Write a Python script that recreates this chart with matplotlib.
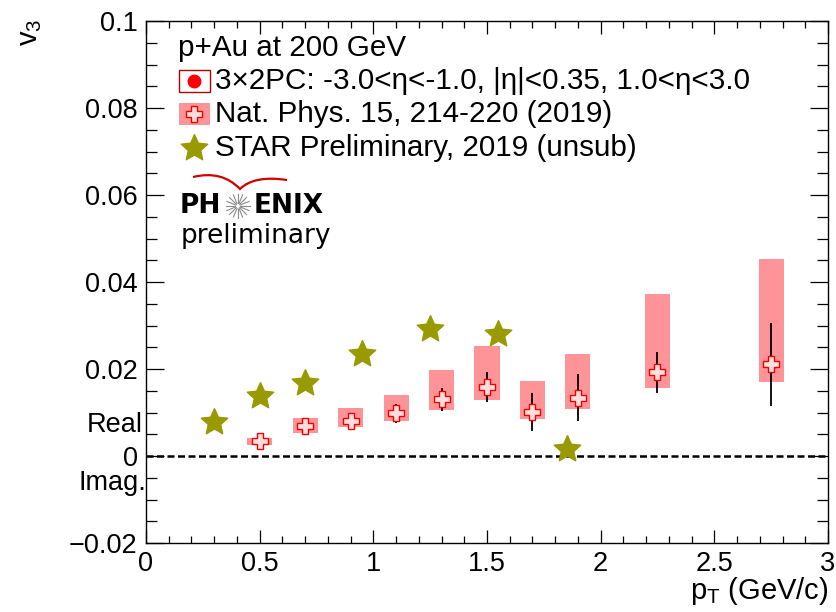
import numpy as np
import matplotlib
matplotlib.use("Agg")
import matplotlib.pyplot as plt
from matplotlib.lines import Line2D
from matplotlib.patches import Rectangle, PathPatch
from matplotlib.path import Path
from matplotlib.ticker import MultipleLocator, FixedLocator, FixedFormatter

plt.rcParams['font.family'] = ['Liberation Sans', 'DejaVu Sans']
plt.rcParams['mathtext.default'] = 'regular'

# PHENIX p+Au v3 (3x2PC)
phx_pt = [0.5, 0.7, 0.9, 1.1, 1.3, 1.5, 1.7, 1.9, 2.25, 2.75]
phx_v3 = [0.0034, 0.0069, 0.0081, 0.0098, 0.0130, 0.0158, 0.0101, 0.0134, 0.0192, 0.0211]
phx_stat = [0.0008, 0.0009, 0.0011, 0.0022, 0.0027, 0.0034, 0.0043, 0.0054, 0.0047, 0.0095]
phx_sys_lo = [0.0025, 0.0054, 0.0067, 0.0080, 0.0106, 0.0129, 0.0085, 0.0107, 0.0156, 0.0171]
phx_sys_hi = [0.0041, 0.0087, 0.0110, 0.0140, 0.0197, 0.0254, 0.0172, 0.0235, 0.0373, 0.0453]

# STAR preliminary (unsubtracted)
star_pt = [0.3, 0.5, 0.7, 0.95, 1.25, 1.55, 1.85]
star_v3 = [0.0079, 0.0139, 0.0168, 0.0234, 0.0291, 0.0280, 0.0015]

xticks = [0, 0.5, 1, 1.5, 2, 2.5, 3]
xticklabels = ["0", "0.5", "1", "1.5", "2", "2.5", "3"]
yticks = [-0.02, 0, 0.02, 0.04, 0.06, 0.08, 0.1]
yticklabels = ["\u22120.02", "0", "0.02", "0.04", "0.06", "0.08", "0.1"]

W, H = 837, 612
PINK = '#ff9498'
OLIVE = '#999900'
RED = '#ee0000'
FS_TICK = 19.5
FS_TITLE = 21
FS_LEG = 21.3

fig = plt.figure(figsize=(W / 100, H / 100), dpi=100)
ax = fig.add_axes([146 / W, 1 - 543 / H, (828 - 146) / W, (543 - 21) / H])
ax.set_xlim(0, 3)
ax.set_ylim(-0.02, 0.1)


def fx(x):
    return x / W


def fy(y):
    return 1 - y / H


# star marker with fatter arms
ang = np.pi / 2 + np.arange(10) * np.pi / 5
rad = np.where(np.arange(10) % 2 == 0, 1.0, 0.47)
star_verts = list(zip(rad * np.cos(ang), rad * np.sin(ang)))
star_verts.append(star_verts[0])

# zero line
ax.axhline(0, color='k', lw=1.8, ls=(0, (2.8, 1.4)), zorder=2)

# systematic boxes
lo = np.array(phx_sys_lo)
hi = np.array(phx_sys_hi)
ax.bar(phx_pt, hi - lo, bottom=lo, width=0.11, color=PINK, edgecolor='none', zorder=3)

# statistical errors
v = np.array(phx_v3)
e = np.array(phx_stat)
ax.vlines(phx_pt, v - e, v + e, color='k', lw=1.3, zorder=4)
ax.plot(phx_pt, phx_v3, ls='none', marker='P', ms=11.5, mfc='#ffdede', mec=RED, mew=1.0, zorder=5)

# STAR points
ax.plot(star_pt, star_v3, ls='none', marker=star_verts, ms=20, color=OLIVE, mec=OLIVE, zorder=6)

# axes styling
ax.xaxis.set_major_locator(FixedLocator(xticks))
ax.xaxis.set_major_formatter(FixedFormatter(xticklabels))
ax.xaxis.set_minor_locator(MultipleLocator(0.1))
ax.yaxis.set_major_locator(FixedLocator(yticks))
ax.yaxis.set_major_formatter(FixedFormatter(yticklabels))
ax.yaxis.set_minor_locator(MultipleLocator(0.005))
ax.tick_params(which='both', direction='in', top=True, right=True, width=0.9, labelsize=FS_TICK)
ax.tick_params(axis='x', which='major', length=9.5, pad=6)
ax.tick_params(axis='x', which='minor', length=5)
ax.tick_params(axis='y', which='major', length=13, pad=6)
ax.tick_params(axis='y', which='minor', length=8)
for s in ax.spines.values():
    s.set_linewidth(1.0)

# axis titles
fig.text(fx(828), fy(591), "p$_T$ (GeV/c)", ha='right', va='center', fontsize=FS_TITLE)
fig.text(fx(30), fy(32), "v$_3$", ha='center', va='center', fontsize=FS_TITLE, rotation=90)
fig.text(fx(143), fy(425), "Real", ha='right', va='center', fontsize=FS_TICK)
fig.text(fx(146), fy(483), "Imag.", ha='right', va='center', fontsize=FS_TICK)

# legend
fig.text(fx(178), fy(48), "p+Au at 200 GeV", ha='left', va='center', fontsize=FS_LEG)
rows = [81, 114, 148]
labels = ["3\u00d72PC: -3.0<\u03b7<-1.0, |\u03b7|<0.35, 1.0<\u03b7<3.0",
          "Nat. Phys. 15, 214-220 (2019)",
          "STAR Preliminary, 2019 (unsub)"]
for yr, lab in zip(rows, labels):
    fig.text(fx(215), fy(yr), lab, ha='left', va='center', fontsize=FS_LEG)

bw, bh = 31, 22
fig.add_artist(Rectangle((fx(179), fy(rows[0] + bh / 2)), bw / W, bh / H,
                         transform=fig.transFigure, facecolor='white', edgecolor='#b00000', lw=1.0))
fig.add_artist(Line2D([fx(194.5)], [fy(rows[0])], transform=fig.transFigure,
                      marker='o', ms=9, color='#ff0000', ls='none'))
fig.add_artist(Rectangle((fx(179), fy(rows[1] + bh / 2)), bw / W, bh / H,
                         transform=fig.transFigure, facecolor=PINK, edgecolor='none'))
fig.add_artist(Line2D([fx(194.5)], [fy(rows[1])], transform=fig.transFigure,
                      marker='P', ms=11.5, mfc='#ffdede', mec=RED, mew=1.0, ls='none'))
fig.add_artist(Line2D([fx(194.5)], [fy(rows[2])], transform=fig.transFigure,
                      marker=star_verts, ms=20, color=OLIVE, ls='none'))

# PHENIX logo
fig.text(fx(180), fy(206), "PH", ha='left', va='center', fontsize=19,
         fontweight='bold', family='DejaVu Sans')
fig.text(fx(324), fy(206), "ENIX", ha='right', va='center', fontsize=19,
         fontweight='bold', family='DejaVu Sans')
fig.text(fx(256), fy(236), "preliminary", ha='center', va='center', fontsize=19,
         family='DejaVu Sans')
cx, cy = 238, 206
for k in range(16):
    a = k * np.pi / 8
    fig.add_artist(Line2D([fx(cx + 2.5 * np.cos(a)), fx(cx + 12 * np.cos(a))],
                          [fy(cy + 2.5 * np.sin(a)), fy(cy + 12 * np.sin(a))],
                          transform=fig.transFigure, color='#8a8a8a', lw=0.8))
swoosh = Path([(fx(193), fy(177)), (fx(222), fy(170)), (fx(240), fy(189)),
               (fx(254), fy(175)), (fx(287), fy(180))],
              [Path.MOVETO, Path.CURVE3, Path.CURVE3, Path.CURVE3, Path.CURVE3])
fig.add_artist(PathPatch(swoosh, transform=fig.transFigure, facecolor='none',
                         edgecolor='#d00000', lw=1.6))

fig.savefig("out.png", dpi=100)
